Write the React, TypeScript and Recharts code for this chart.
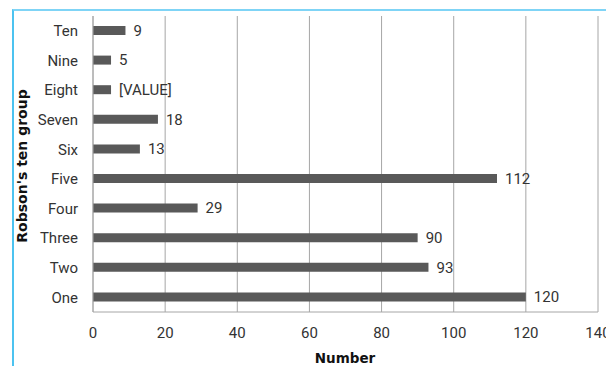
import React from 'react';
import { BarChart, Bar, XAxis, YAxis, CartesianGrid, LabelList, Label } from 'recharts';

const categories = ['Ten', 'Nine', 'Eight', 'Seven', 'Six', 'Five', 'Four', 'Three', 'Two', 'One'];
const values = [9, 5, 5, 18, 13, 112, 29, 90, 93, 120];
const valueLabels = ['9', '5', '[VALUE]', '18', '13', '112', '29', '90', '93', '120'];
const xTicks = [0, 20, 40, 60, 80, 100, 120, 140];

const data = categories.map((name, i) => ({ name, value: values[i], label: valueLabels[i] }));

const tickFont = 'Roboto, "Liberation Sans", sans-serif';
const titleFont = '"DejaVu Sans", Verdana, sans-serif';

export default function App() {
  return (
    <div style={{ position: 'absolute', left: 0, top: 0, width: 606, height: 366, overflow: 'hidden', background: '#fff' }}>
      <div
        style={{
          position: 'absolute',
          left: 12,
          top: 9,
          width: 700,
          height: 500,
          borderLeft: '2px solid #4cc3f0',
          borderTop: '2px solid #7fd4f6',
        }}
      />
      <div style={{ position: 'absolute', left: 0, top: 0 }}>
        <BarChart
          width={606}
          height={366}
          data={data}
          layout="vertical"
          margin={{ top: 16, right: 8, left: 0, bottom: 0 }}
          barCategoryGap={0}
        >
          <CartesianGrid horizontal={false} vertical stroke="#a6a6a6" strokeWidth={1} />
          <XAxis
            type="number"
            domain={[0, 140]}
            ticks={xTicks}
            interval={0}
            height={54}
            axisLine={{ stroke: '#a6a6a6' }}
            tickLine={false}
            tickSize={0}
            tickMargin={15}
            tick={{ fill: '#333', fontSize: 15, fontFamily: tickFont }}
          >
            <Label
              content={() => (
                <text
                  x={345}
                  y={363}
                  textAnchor="middle"
                  fontFamily={titleFont}
                  fontWeight="bold"
                  fontSize={13.5}
                  fill="#111"
                >
                  Number
                </text>
              )}
            />
          </XAxis>
          <YAxis
            type="category"
            dataKey="name"
            width={93}
            axisLine={{ stroke: '#a6a6a6' }}
            tickLine={false}
            tickSize={0}
            tickMargin={15}
            interval={0}
            tick={{ fill: '#333', fontSize: 15, fontFamily: tickFont }}
          >
            <Label
              content={() => (
                <text
                  x={27}
                  y={166}
                  transform="rotate(-90 27 166)"
                  textAnchor="middle"
                  fontFamily={titleFont}
                  fontWeight="bold"
                  fontSize={14}
                  fill="#111"
                >
                  Robson's ten group
                </text>
              )}
            />
          </YAxis>
          <Bar dataKey="value" fill="#595959" barSize={9} isAnimationActive={false}>
            <LabelList
              dataKey="label"
              position="right"
              offset={8}
              fill="#333"
              fontSize={15}
              fontFamily={tickFont}
            />
          </Bar>
        </BarChart>
      </div>
    </div>
  );
}
